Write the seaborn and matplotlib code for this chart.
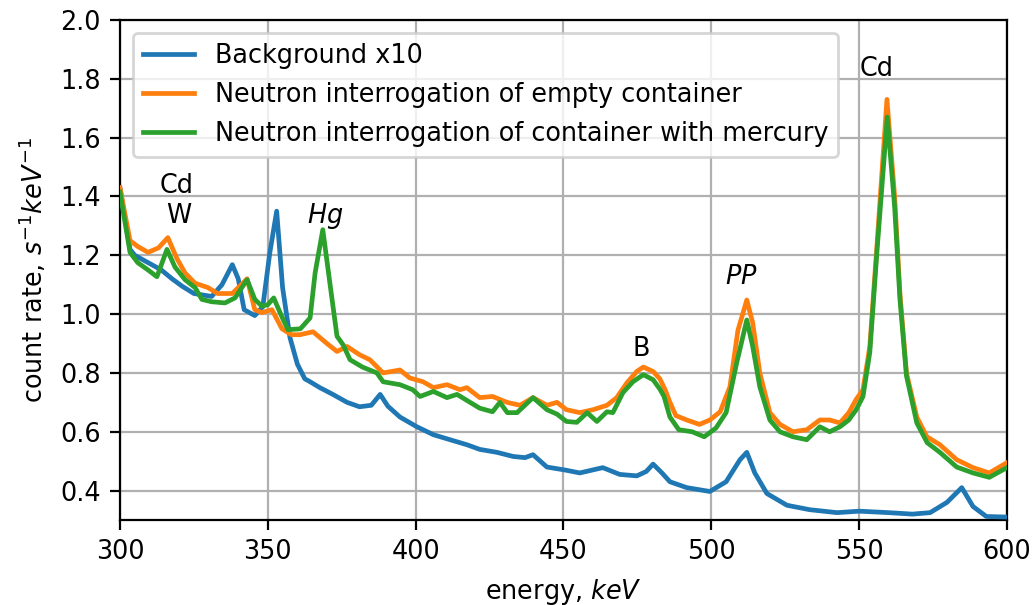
import matplotlib
matplotlib.use("Agg")
import matplotlib.pyplot as plt
import seaborn as sns
import pandas as pd

# ---- data ----
bg_energy = [300, 303.4, 305, 309.5, 314, 317.6, 321, 325, 331, 334.5, 338, 340, 342, 345.6,
             348.3, 350.7, 353, 355, 357.5, 360, 362.5, 364.3, 367.6, 372, 376.8, 381, 385,
             388, 390.6, 394.7, 400.4, 406, 411.6, 417.3, 421.7, 427.5, 433, 437, 439.7,
             444.4, 450.5, 455.5, 463.3, 469, 474.8, 478, 480.3, 483.3, 486, 491.7, 499.5,
             505, 509.7, 512, 514.7, 518.8, 525.6, 533.3, 542.5, 550, 560, 568, 574, 579.7,
             584.7, 588.5, 593, 600]
bg_rate = [1.43, 1.22, 1.20, 1.175, 1.15, 1.12, 1.095, 1.07, 1.06, 1.10, 1.168, 1.12, 1.015, 0.995,
           1.025, 1.21, 1.35, 1.09, 0.92, 0.83, 0.78, 0.77, 0.75, 0.727, 0.70, 0.685, 0.69,
           0.727, 0.687, 0.65, 0.617, 0.59, 0.573, 0.556, 0.54, 0.53, 0.516, 0.512, 0.522,
           0.48, 0.47, 0.46, 0.478, 0.455, 0.45, 0.465, 0.49, 0.46, 0.43, 0.41, 0.397,
           0.43, 0.505, 0.53, 0.46, 0.39, 0.35, 0.335, 0.325, 0.33, 0.325, 0.32, 0.325, 0.36,
           0.41, 0.346, 0.312, 0.31]

empty_energy = [300, 303.4, 306, 309.5, 313, 316.2, 319.2, 322, 325.4, 329.8, 333, 338, 343,
                345.6, 348, 351.4, 354.8, 358, 360.9, 365.3, 370, 373.4, 376.8, 381, 384.5,
                389, 394.7, 398, 402.5, 406, 410.6, 415, 417.3, 421.7, 426, 430.9, 435.3,
                439.7, 444.4, 447.8, 451, 455.5, 460, 464.7, 468, 471.5, 474.8, 477, 480.3,
                482.6, 484.5, 486, 488, 491.7, 496, 499.5, 503, 506.3, 509, 512, 514, 516.4,
                519.8, 523.2, 527.6, 532.3, 536.7, 540, 543.5, 546.5, 549, 551.3, 553.6, 556,
                559.4, 562, 563.8, 566, 569.5, 572.9, 577.3, 583, 588.5, 594, 600]
empty_rate = [1.43, 1.25, 1.23, 1.21, 1.225, 1.26, 1.19, 1.14, 1.105, 1.09, 1.07, 1.07, 1.12,
              1.015, 1.005, 1.015, 0.95, 0.93, 0.93, 0.94, 0.90, 0.873, 0.89, 0.862, 0.845,
              0.80, 0.81, 0.783, 0.77, 0.75, 0.76, 0.743, 0.75, 0.716, 0.72, 0.70, 0.69,
              0.716, 0.69, 0.70, 0.675, 0.665, 0.675, 0.69, 0.716, 0.767, 0.805, 0.82, 0.805,
              0.78, 0.74, 0.70, 0.655, 0.64, 0.625, 0.64, 0.668, 0.753, 0.945, 1.048, 0.97, 0.80,
              0.665, 0.625, 0.60, 0.607, 0.64, 0.64, 0.63, 0.665, 0.71, 0.743, 0.89, 1.23,
              1.73, 1.40, 1.07, 0.80, 0.65, 0.583, 0.556, 0.505, 0.478, 0.46, 0.495]

hg_energy = [300, 303.4, 306, 309.5, 312.5, 315.9, 318.6, 322, 325.4, 327.7, 331, 335.5, 338.9,
             343, 345.6, 348, 350, 352, 354.8, 356.8, 361, 364.3, 366, 368.6, 371, 373.4,
             375.5, 377.8, 382, 386.9, 389, 394.7, 399, 401.5, 406, 410.6, 414, 418.4, 421.7,
             426, 428.5, 431, 434.3, 439.7, 444.4, 447.8, 451, 454.5, 458, 461.3, 464.7,
             466.7, 470.1, 473.5, 477, 480.3, 482.6, 484, 486, 489, 493.5, 497.6, 501.6, 505,
             508.6, 512, 514, 516.4, 519.8, 523.2, 527.6, 532.3, 536.7, 540, 543.5, 546.5,
             549, 551.3, 553.6, 556, 559.5, 562, 563.8, 566, 569.5, 573, 577.3, 583, 588.5,
             594, 600]
hg_rate = [1.415, 1.21, 1.175, 1.15, 1.127, 1.22, 1.16, 1.117, 1.09, 1.05, 1.042, 1.038, 1.055,
           1.117, 1.05, 1.027, 1.032, 1.055, 0.99, 0.947, 0.95, 0.987, 1.14, 1.287, 1.105, 0.925,
           0.895, 0.845, 0.82, 0.80, 0.77, 0.76, 0.743, 0.72, 0.737, 0.716, 0.727, 0.70, 0.68,
           0.668, 0.70, 0.665, 0.665, 0.716, 0.675, 0.66, 0.635, 0.632, 0.665, 0.635, 0.668,
           0.665, 0.733, 0.77, 0.794, 0.777, 0.745, 0.72, 0.65, 0.607, 0.60, 0.583, 0.613, 0.665,
           0.835, 0.98, 0.89, 0.753, 0.64, 0.60, 0.583, 0.573, 0.617, 0.60, 0.617, 0.64,
           0.675, 0.72, 0.87, 1.21, 1.67, 1.365, 1.05, 0.79, 0.63, 0.563, 0.53, 0.48, 0.46,
           0.445, 0.478]

series_labels = ["Background x10",
                 "Neutron interrogation of empty container",
                 "Neutron interrogation of container with mercury"]
series_colors = ["#1f77b4", "#ff7f0e", "#2ca02c"]

peak_labels = ["Cd", "W", "$Hg$", "B", "$PP$", "Cd"]
peak_x = [319.3, 320.0, 369.3, 476.2, 510.3, 556.0]
peak_y = [1.436, 1.334, 1.334, 0.882, 1.127, 1.834]

x_ticks = [300, 350, 400, 450, 500, 550, 600]
y_ticks = [0.4, 0.6, 0.8, 1.0, 1.2, 1.4, 1.6, 1.8, 2.0]

FS = 9.2

# ---- figure ----
fig = plt.figure(figsize=(5.18, 3.025), dpi=200)
ax = fig.add_axes([0.1158, 0.1405, 0.8562, 0.8265])

for xs, ys, lab, col in zip([bg_energy, empty_energy, hg_energy],
                            [bg_rate, empty_rate, hg_rate],
                            series_labels, series_colors):
    df = pd.DataFrame({"energy": xs, "rate": ys})
    sns.lineplot(data=df, x="energy", y="rate", ax=ax, color=col, label=lab,
                 linewidth=1.7, zorder=3)

for t, xx, yy in zip(peak_labels, peak_x, peak_y):
    ax.text(xx, yy, t, ha="center", va="center", fontsize=FS, zorder=4)

ax.set_xlim(300, 600)
ax.set_ylim(0.3, 2.0)
ax.set_xticks(x_ticks)
ax.set_yticks(y_ticks)
ax.grid(True, color="#b0b0b0", linewidth=0.8)
ax.set_axisbelow(True)
ax.set_xlabel("energy, $keV$", fontsize=FS)
ax.set_ylabel("count rate, $s^{-1}keV^{-1}$", fontsize=FS)
ax.tick_params(labelsize=FS)
ax.legend(loc="upper left", fontsize=FS)

fig.savefig("out.png", dpi=200)
